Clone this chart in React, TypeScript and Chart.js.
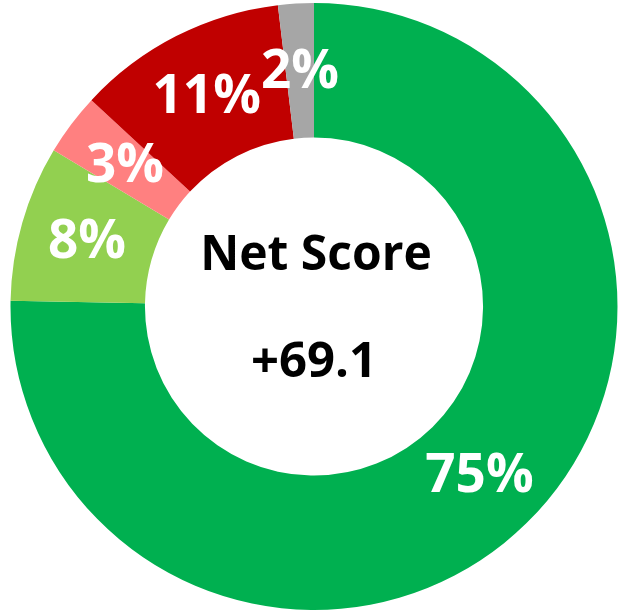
import React, { useEffect, useRef } from "react";
import { Chart, registerables } from "chart.js";

Chart.register(...registerables);

const categories = ["Strong Positive", "Positive", "Negative", "Strong Negative", "Neutral"];
const values = [75.3, 8.3, 3.3, 11.2, 1.9];
const sliceLabels = ["75%", "8%", "3%", "11%", "2%"];
const colors = ["#00B050", "#92D050", "#FF8080", "#C00000", "#A6A6A6"];
const centerTitle = "Net Score";
const centerValue = "+69.1";

const labelPlugin = {
  id: "sliceLabels",
  afterDatasetsDraw(chart: any) {
    const ctx = chart.ctx;
    const meta = chart.getDatasetMeta(0);
    ctx.save();
    ctx.fillStyle = "#FFFFFF";
    ctx.font = "bold 53px 'Open Sans'";
    ctx.textAlign = "center";
    ctx.textBaseline = "middle";
    meta.data.forEach((arc: any, i: number) => {
      const p = arc.tooltipPosition();
      ctx.fillText(sliceLabels[i], p.x, p.y + 2);
    });
    const a = meta.data[0];
    const cx = a.x;
    const cy = a.y;
    ctx.fillStyle = "#000000";
    ctx.font = "bold 48px 'Open Sans'";
    ctx.fillText(centerTitle, cx + 2, cy - 50);
    ctx.font = "bold 49px 'Open Sans'";
    ctx.fillText(centerValue, cx, cy + 57);
    ctx.restore();
  },
};

export default function App() {
  const ref = useRef<HTMLCanvasElement>(null);
  useEffect(() => {
    const chart = new Chart(ref.current!, {
      type: "doughnut",
      data: {
        labels: categories,
        datasets: [
          {
            data: values,
            backgroundColor: colors,
            borderWidth: 0,
          },
        ],
      },
      options: {
        animation: false,
        responsive: false,
        cutout: "55.7%",
        layout: { padding: { top: 3, bottom: 3 } },
        plugins: {
          legend: { display: false },
          tooltip: { enabled: false },
        },
      },
      plugins: [labelPlugin],
    });
    return () => chart.destroy();
  }, []);
  return (
    <div style={{ position: "absolute", left: 0, top: 0, width: 628, height: 613, background: "#fff" }}>
      <canvas ref={ref} width={628} height={613} />
    </div>
  );
}
